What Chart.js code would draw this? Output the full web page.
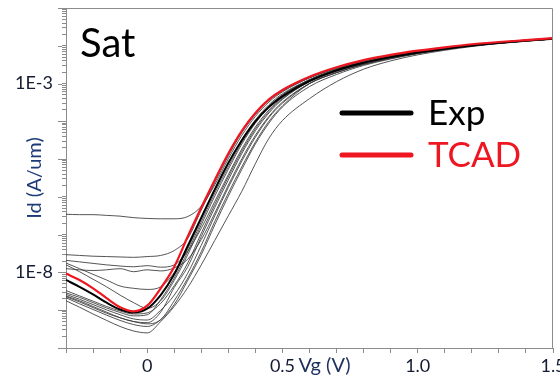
<!DOCTYPE html>
<html>
<head>
<meta charset="utf-8">
<script src="https://cdn.jsdelivr.net/npm/chart.js@4.4.1/dist/chart.umd.min.js"></script>
<style>
  html, body { margin: 0; padding: 0; background: #fff; }
  #wrap { width: 560px; height: 377px; }
</style>
</head>
<body>
<div id="wrap"><canvas id="chart" width="560" height="377"></canvas></div>
<script>
// Vg (V) sample points shared by every curve
const vg = [-0.3, -0.25, -0.2, -0.15, -0.1, -0.05, 0, 0.05, 0.1, 0.15, 0.2, 0.25, 0.3, 0.35, 0.4, 0.45, 0.5,
            0.6, 0.7, 0.8, 0.9, 1.0, 1.1, 1.2, 1.3, 1.4, 1.5];

// log10(Id)
const tcad = [-8.03, -8.2, -8.42, -8.68, -8.92, -9.03, -8.88, -8.42, -7.85, -7.05, -6.28, -5.55, -4.85, -4.25, -3.78, -3.42, -3.17,
              -2.82, -2.57, -2.38, -2.24, -2.13, -2.04, -1.96, -1.9, -1.85, -1.8];
const expMain = [-8.2, -8.38, -8.58, -8.8, -8.98, -9.06, -8.96, -8.6, -8.05, -7.3, -6.55, -5.8, -5.1, -4.5, -4.0, -3.62, -3.34,
                 -2.93, -2.65, -2.45, -2.3, -2.18, -2.08, -1.99, -1.92, -1.86, -1.81];

// the other measured devices (thin gray)
const exp1 = [-6.46, -6.47, -6.47, -6.49, -6.51, -6.55, -6.57, -6.58, -6.58, -6.52, -6.25, -5.68, -4.99, -4.37, -3.87, -3.49, -3.22,
              -2.85, -2.6, -2.4, -2.26, -2.15, -2.05, -1.97, -1.91, -1.855, -1.805];
const exp2 = [-7.53, -7.55, -7.57, -7.58, -7.59, -7.6, -7.58, -7.55, -7.42, -7.1, -6.35, -5.62, -4.92, -4.3, -3.82, -3.45, -3.2,
              -2.85, -2.6, -2.4, -2.26, -2.15, -2.05, -1.97, -1.91, -1.855, -1.805];
const exp3 = [-7.68, -7.72, -7.76, -7.8, -7.83, -7.85, -7.82, -7.86, -7.8, -7.44, -6.83, -6.12, -5.41, -4.73, -4.15, -3.7, -3.37,
              -2.95, -2.67, -2.46, -2.31, -2.18, -2.08, -2.0, -1.93, -1.87, -1.82];
const exp4 = [-7.75, -7.9, -8.05, -8.2, -8.36, -8.42, -8.45, -8.38, -8.0, -7.37, -6.58, -5.83, -5.13, -4.48, -3.96, -3.56, -3.27,
              -2.9, -2.63, -2.43, -2.28, -2.16, -2.06, -1.98, -1.91, -1.86, -1.81];
const exp5 = [-7.9, -7.93, -7.95, -7.93, -7.9, -7.98, -7.93, -7.96, -7.88, -7.65, -7.13, -6.43, -5.69, -4.99, -4.37, -3.87, -3.49,
              -3.0, -2.71, -2.49, -2.33, -2.2, -2.09, -2.0, -1.93, -1.87, -1.82];
const exp6 = [-8.54, -8.66, -8.8, -8.94, -9.06, -9.15, -9.12, -8.72, -8.15, -7.45, -6.66, -5.9, -5.2, -4.55, -4.02, -3.6, -3.3,
              -2.9, -2.63, -2.43, -2.28, -2.16, -2.06, -1.98, -1.91, -1.86, -1.81];
const exp7 = [-8.62, -8.75, -8.9, -9.05, -9.2, -9.3, -9.33, -9.05, -8.4, -7.85, -7.05, -6.28, -5.55, -4.85, -4.25, -3.78, -3.42,
              -2.95, -2.67, -2.46, -2.31, -2.18, -2.08, -2.0, -1.93, -1.87, -1.82];
const exp8 = [-8.67, -8.83, -8.98, -9.13, -9.27, -9.38, -9.43, -9.25, -8.85, -8.21, -7.53, -6.74, -5.98, -5.27, -4.6, -4.05, -3.62,
              -3.08, -2.76, -2.52, -2.35, -2.21, -2.1, -2.01, -1.94, -1.88, -1.82];
const exp9 = [-8.58, -8.71, -8.85, -8.99, -9.12, -9.23, -9.26, -9.0, -8.6, -8.02, -7.28, -6.5, -5.75, -5.05, -4.42, -3.9, -3.52,
              -3.0, -2.71, -2.49, -2.33, -2.2, -2.09, -2.0, -1.93, -1.87, -1.82];
const exp10 = [-8.48, -8.62, -8.76, -8.9, -9.02, -9.1, -9.07, -8.82, -8.35, -7.75, -6.96, -6.2, -5.47, -4.79, -4.2, -3.74, -3.4,
               -2.95, -2.67, -2.46, -2.31, -2.18, -2.08, -2.0, -1.93, -1.87, -1.82];
const exp11 = [-8.64, -8.78, -8.93, -9.08, -9.2, -9.3, -9.36, -9.25, -8.75, -8.15, -7.45, -6.65, -5.9, -5.2, -4.55, -4.0, -3.59,
               -3.0, -2.71, -2.49, -2.33, -2.2, -2.09, -2.0, -1.93, -1.87, -1.82];
const exp12 = [-8.75, -8.92, -9.1, -9.27, -9.43, -9.55, -9.6, -9.3, -8.9, -8.4, -7.8, -7.15, -6.5, -5.85, -5.12, -4.45, -3.98,
               -3.4, -2.95, -2.62, -2.4, -2.24, -2.12, -2.02, -1.94, -1.88, -1.83];
const exp13 = [-7.8, -7.98, -8.18, -8.38, -8.6, -8.8, -8.95, -8.75, -8.21, -7.53, -6.74, -5.98, -5.27, -4.6, -4.05, -3.62, -3.31,
               -2.9, -2.63, -2.43, -2.28, -2.16, -2.06, -1.98, -1.91, -1.86, -1.81];
const expOthers = [exp1, exp2, exp3, exp4, exp5, exp6, exp7, exp8, exp9, exp10, exp11, exp12, exp13];

// axis ticks
const xTickLabels = { '0': '0', '5': '0.5', '10': '1.0', '15': '1.5' };  // keyed by Vg*10
const yLabelExps = [-3, -8];
const yDecades = [-10, -9, -8, -7, -6, -5, -4, -3, -2];
const yMantissas = [1, 2, 3, 4, 5, 6, 7, 8, 9];

const legendLabels = ['Exp', 'TCAD'];
const panelTitle = 'Sat';
const xTitle = 'Vg (V)';
const yTitle = 'Id (A/um)';

const RED = '#ee1620';
const AXIS = '#8c8c8c';
const FONT = 'Lato, "Open Sans", sans-serif';

function toPoints(logs) {
    return vg.map((x, i) => ({ x: x, y: Math.pow(10, logs[i]) }));
}

const yTickValues = [];
yDecades.forEach(e => yMantissas.forEach(m => yTickValues.push(m * Math.pow(10, e))));
yTickValues.push(0.1);

const datasets = expOthers.map(c => ({
    label: 'Exp',
    data: toPoints(c),
    borderColor: 'rgba(55,55,55,0.85)',
    borderWidth: 1,
    order: 3
}));
datasets.push({ label: 'Exp', data: toPoints(expMain), borderColor: '#000', borderWidth: 2, order: 2 });
datasets.push({ label: 'TCAD', data: toPoints(tcad), borderColor: RED, borderWidth: 2.2, order: 1 });

// texts, frame and legend drawn over the plot
const overlay = {
    id: 'overlay',
    afterDraw(chart) {
        const ctx = chart.ctx;
        const a = chart.chartArea;
        const y = chart.scales.y;
        ctx.save();
        // box top / right
        ctx.strokeStyle = AXIS;
        ctx.lineWidth = 1;
        ctx.beginPath();
        ctx.moveTo(a.left, a.top + 0.5);
        ctx.lineTo(a.right - 0.5, a.top + 0.5);
        ctx.lineTo(a.right - 0.5, a.bottom);
        ctx.stroke();
        // longer ticks at decades
        ctx.beginPath();
        yDecades.concat([-1]).forEach(e => {
            const py = Math.round(y.getPixelForValue(Math.pow(10, e))) + 0.5;
            ctx.moveTo(a.left - 8, py);
            ctx.lineTo(a.left - 4, py);
        });
        ctx.stroke();

        ctx.textBaseline = 'alphabetic';
        ctx.textAlign = 'left';
        ctx.fillStyle = '#000';
        ctx.font = '40px ' + FONT;
        ctx.fillText(panelTitle, a.left + 14, a.top + 49);

        // legend
        const colors = ['#000', RED];
        const rows = [a.top + 105, a.top + 147];
        ctx.lineCap = 'round';
        ctx.lineWidth = 5;
        legendLabels.forEach((lab, i) => {
            ctx.strokeStyle = colors[i];
            ctx.beginPath();
            ctx.moveTo(a.left + 276, rows[i]);
            ctx.lineTo(a.left + 345, rows[i]);
            ctx.stroke();
            ctx.fillStyle = colors[i];
            ctx.font = '35px ' + FONT;
            ctx.fillText(lab, a.left + 362, rows[i] + 12);
        });

        // x title sits next to the 0.5 label
        ctx.fillStyle = '#1d2f5e';
        ctx.font = '20px ' + FONT;
        ctx.fillText(xTitle, chart.scales.x.getPixelForValue(0.5) + 16, 372);
        ctx.restore();
    }
};

new Chart(document.getElementById('chart'), {
    type: 'line',
    data: { datasets: datasets },
    options: {
        responsive: false,
        animation: false,
        events: [],
        layout: { autoPadding: false, padding: { top: 8, right: 7, left: 0, bottom: 0 } },
        elements: {
            point: { radius: 0 },
            line: { cubicInterpolationMode: 'monotone', fill: false }
        },
        plugins: { legend: { display: false }, tooltip: { enabled: false } },
        scales: {
            x: {
                type: 'linear',
                min: -0.3,
                max: 1.5,
                afterFit: s => {
                    s.height = 29;
                    s.paddingLeft = 0;
                    s.paddingRight = 0;
                },
                ticks: {
                    stepSize: 0.1,
                    autoSkip: false,
                    maxRotation: 0,
                    padding: 2,
                    color: '#141c33',
                    font: { family: FONT, size: 18 },
                    callback: v => xTickLabels[String(Math.round(v * 10))] || ''
                },
                grid: { drawOnChartArea: false, drawTicks: true, tickLength: 5, color: AXIS },
                border: { color: AXIS, width: 1 }
            },
            y: {
                type: 'logarithmic',
                min: 1e-10,
                max: 1e-1,
                afterFit: s => {
                    s.width = 66;
                    s.paddingTop = 0;
                    s.paddingBottom = 0;
                },
                afterBuildTicks: s => { s.ticks = yTickValues.map(v => ({ value: v })); },
                ticks: {
                    autoSkip: false,
                    padding: 9,
                    color: '#141c33',
                    font: { family: FONT, size: 18 },
                    callback: v => {
                        const e = Math.log10(v);
                        const r = Math.round(e);
                        if (Math.abs(e - r) < 1e-6 && yLabelExps.includes(r)) return '1E' + r;
                        return '';
                    }
                },
                grid: { drawOnChartArea: false, drawTicks: true, tickLength: 4, color: AXIS },
                border: { color: AXIS, width: 1 },
                title: {
                    display: true,
                    text: yTitle,
                    color: '#1d3a78',
                    font: { family: FONT, size: 20 },
                    padding: { top: 23, bottom: 0 }
                }
            }
        }
    },
    plugins: [overlay]
});
</script>
</body>
</html>
